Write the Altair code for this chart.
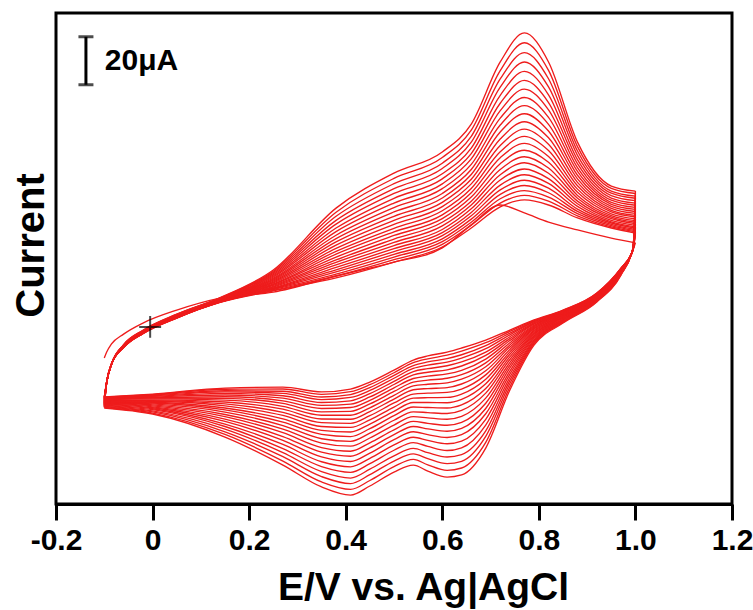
import altair as alt
import pandas as pd

# ---------------- data (potential in V, current in uA) ----------------
ANODIC_E = [-0.095, -0.085, -0.06, -0.02, 0.05, 0.14, 0.25, 0.38, 0.5, 0.6,
            0.66, 0.72, 0.77, 0.82, 0.88, 0.95, 1.0]
CATHODIC_E = [0.995, 0.97, 0.92, 0.85, 0.79, 0.74, 0.69, 0.64, 0.61, 0.57,
              0.54, 0.5, 0.45, 0.41, 0.35, 0.27, 0.15, 0.0, -0.1]

# first (initial) anodic scan, starting at -0.1 V
FIRST_SCAN_START = -24.2
FIRST_SCAN_I = [-21.7, -18.3, -14.2, -9.6, -4.2, 0.8, 3.3, 10.0, 15.8, 21.7,
                31.3, 39.6, 36.3, 32.5, 29.2, 25.8, 23.8]

# anodic currents of cycles 2..25, one row per potential in ANODIC_E
ANODIC_I = [
    [-34.2, -34.2, -34.2, -34.2, -34.2, -34.2, -34.2, -34.2, -34.2, -34.2, -34.2, -34.2,
     -34.2, -34.2, -34.2, -34.2, -34.2, -34.2, -34.2, -34.2, -34.2, -34.2, -34.2, -34.2],
    [-26.7, -26.7, -26.7, -26.7, -26.7, -26.7, -26.7, -26.7, -26.7, -26.7, -26.7, -26.7,
     -26.7, -26.7, -26.7, -26.7, -26.7, -26.7, -26.7, -26.7, -26.7, -26.7, -26.7, -26.7],
    [-19.8, -19.8, -19.7, -19.7, -19.7, -19.6, -19.6, -19.5, -19.5, -19.4, -19.4, -19.3,
     -19.3, -19.2, -19.2, -19.1, -19.1, -19.0, -18.9, -18.9, -18.8, -18.7, -18.7, -18.6],
    [-14.0, -14.0, -13.9, -13.9, -13.8, -13.8, -13.7, -13.7, -13.6, -13.6, -13.5, -13.5,
     -13.4, -13.3, -13.3, -13.2, -13.1, -13.1, -13.0, -12.9, -12.8, -12.8, -12.7, -12.6],
    [-7.5, -7.5, -7.4, -7.4, -7.3, -7.3, -7.2, -7.1, -7.1, -7.0, -7.0, -6.9,
     -6.8, -6.8, -6.7, -6.6, -6.5, -6.4, -6.4, -6.3, -6.2, -6.1, -6.0, -5.9],
    [-1.0, -0.9, -0.9, -0.8, -0.8, -0.7, -0.6, -0.6, -0.5, -0.4, -0.3, -0.2,
     -0.2, -0.1, 0.0, 0.1, 0.2, 0.3, 0.4, 0.5, 0.7, 0.8, 0.9, 1.0],
    [3.8, 4.0, 4.3, 4.6, 4.8, 5.1, 5.4, 5.7, 6.1, 6.4, 6.7, 7.1,
     7.5, 7.9, 8.3, 8.7, 9.1, 9.6, 10.0, 10.5, 11.0, 11.5, 12.0, 12.5],
    [9.2, 10.0, 10.8, 11.7, 12.6, 13.6, 14.6, 15.7, 16.7, 17.9, 19.1, 20.3,
     21.5, 22.9, 24.2, 25.6, 27.0, 28.5, 30.0, 31.6, 33.2, 34.9, 36.6, 38.3],
    [15.8, 16.8, 17.9, 19.0, 20.2, 21.4, 22.7, 24.0, 25.4, 26.9, 28.4, 29.9,
     31.5, 33.2, 34.9, 36.7, 38.5, 40.4, 42.4, 44.4, 46.4, 48.5, 50.7, 52.9],
    [22.1, 23.2, 24.3, 25.5, 26.8, 28.1, 29.4, 30.9, 32.4, 33.9, 35.5, 37.2,
     38.9, 40.7, 42.5, 44.4, 46.4, 48.4, 50.5, 52.6, 54.8, 57.0, 59.4, 61.7],
    [30.0, 31.2, 32.4, 33.7, 35.1, 36.5, 38.0, 39.6, 41.2, 42.9, 44.7, 46.5,
     48.4, 50.3, 52.3, 54.4, 56.5, 58.8, 61.0, 63.3, 65.8, 68.2, 70.8, 73.3],
    [38.8, 40.4, 42.2, 44.0, 45.9, 47.9, 50.0, 52.2, 54.4, 56.8, 59.3, 61.8,
     64.4, 67.1, 70.0, 72.9, 75.8, 78.9, 82.0, 85.3, 88.7, 92.1, 95.6, 99.2],
    [41.7, 43.6, 45.6, 47.7, 49.9, 52.2, 54.6, 57.2, 59.7, 62.4, 65.3, 68.2,
     71.2, 74.3, 77.6, 81.0, 84.4, 87.9, 91.5, 95.3, 99.2, 103.1, 107.2, 111.3],
    [39.6, 41.2, 42.9, 44.7, 46.6, 48.6, 50.6, 52.8, 55.0, 57.4, 59.8, 62.3,
     64.9, 67.6, 70.4, 73.2, 76.1, 79.2, 82.3, 85.5, 88.8, 92.2, 95.7, 99.2],
    [34.2, 35.1, 36.0, 36.9, 37.9, 39.0, 40.1, 41.2, 42.4, 43.6, 44.9, 46.2,
     47.6, 49.0, 50.5, 52.0, 53.6, 55.2, 56.8, 58.5, 60.3, 62.1, 63.9, 65.8],
    [30.0, 30.5, 31.0, 31.5, 32.1, 32.6, 33.2, 33.9, 34.5, 35.2, 35.9, 36.7,
     37.4, 38.2, 39.0, 39.9, 40.7, 41.6, 42.5, 43.5, 44.5, 45.4, 46.5, 47.5],
    [27.9, 28.4, 28.9, 29.4, 30.0, 30.5, 31.1, 31.8, 32.4, 33.1, 33.8, 34.6,
     35.3, 36.1, 36.9, 37.8, 38.6, 39.5, 40.4, 41.4, 42.4, 43.3, 44.4, 45.4],
]

# cathodic currents of cycles 1..25, one row per potential in CATHODIC_E
CATHODIC_I = [
    [20.8, 20.8, 20.8, 20.9, 20.9, 20.9, 21.0, 21.0, 21.0, 21.1, 21.1, 21.1, 21.2,
     21.2, 21.2, 21.3, 21.3, 21.4, 21.4, 21.5, 21.5, 21.6, 21.6, 21.7, 21.7],
    [13.3, 13.2, 13.2, 13.1, 13.0, 12.9, 12.8, 12.7, 12.6, 12.5, 12.4, 12.3, 12.1,
     12.0, 11.9, 11.7, 11.6, 11.5, 11.3, 11.2, 11.0, 10.9, 10.7, 10.6, 10.4],
    [2.9, 2.8, 2.7, 2.6, 2.5, 2.4, 2.3, 2.1, 2.0, 1.9, 1.7, 1.6, 1.4,
     1.2, 1.1, 0.9, 0.7, 0.6, 0.4, 0.2, 0.0, -0.2, -0.4, -0.6, -0.8],
    [-4.2, -4.3, -4.5, -4.6, -4.8, -5.0, -5.2, -5.3, -5.5, -5.7, -5.9, -6.2, -6.4,
     -6.6, -6.9, -7.1, -7.4, -7.6, -7.9, -8.2, -8.4, -8.7, -9.0, -9.3, -9.6],
    [-8.3, -8.6, -8.9, -9.1, -9.5, -9.8, -10.1, -10.5, -10.9, -11.3, -11.7, -12.1, -12.6,
     -13.0, -13.5, -14.0, -14.4, -15.0, -15.5, -16.0, -16.6, -17.1, -17.7, -18.2, -18.8],
    [-12.5, -13.1, -13.8, -14.5, -15.3, -16.1, -16.9, -17.8, -18.7, -19.6, -20.6, -21.6, -22.6,
     -23.7, -24.8, -26.0, -27.1, -28.3, -29.6, -30.9, -32.2, -33.5, -34.8, -36.2, -37.5],
    [-16.7, -17.8, -19.0, -20.3, -21.7, -23.1, -24.6, -26.2, -27.8, -29.5, -31.2, -33.0, -34.9,
     -36.9, -38.8, -40.9, -43.0, -45.2, -47.4, -49.7, -52.1, -54.5, -56.8, -59.3, -61.7],
    [-20.0, -21.3, -22.8, -24.2, -25.8, -27.5, -29.3, -31.1, -33.0, -35.0, -37.1, -39.2, -41.4,
     -43.7, -46.0, -48.5, -51.0, -53.5, -56.1, -58.8, -61.6, -64.4, -67.2, -70.0, -72.9],
    [-21.7, -23.0, -24.4, -25.9, -27.4, -29.1, -30.8, -32.6, -34.5, -36.5, -38.5, -40.6, -42.8,
     -45.0, -47.3, -49.7, -52.2, -54.7, -57.3, -59.9, -62.7, -65.4, -68.2, -71.0, -73.8],
    [-23.3, -24.5, -25.8, -27.1, -28.6, -30.1, -31.7, -33.4, -35.1, -36.9, -38.8, -40.7, -42.7,
     -44.8, -46.9, -49.1, -51.4, -53.7, -56.1, -58.5, -61.0, -63.6, -66.1, -68.7, -71.3],
    [-25.0, -26.1, -27.3, -28.5, -29.8, -31.2, -32.7, -34.2, -35.8, -37.4, -39.2, -40.9, -42.7,
     -44.6, -46.6, -48.6, -50.6, -52.7, -54.9, -57.2, -59.4, -61.8, -64.1, -66.4, -68.8],
    [-29.2, -30.3, -31.4, -32.6, -33.9, -35.2, -36.6, -38.1, -39.7, -41.3, -42.9, -44.6, -46.4,
     -48.2, -50.1, -52.1, -54.1, -56.1, -58.2, -60.4, -62.6, -64.9, -67.1, -69.4, -71.7],
    [-34.2, -35.3, -36.5, -37.7, -39.0, -40.4, -41.8, -43.3, -44.9, -46.5, -48.2, -49.9, -51.7,
     -53.6, -55.5, -57.5, -59.5, -61.6, -63.8, -66.0, -68.2, -70.5, -72.8, -75.2, -77.5],
    [-37.1, -38.2, -39.4, -40.6, -42.0, -43.4, -44.8, -46.4, -48.0, -49.7, -51.4, -53.1, -55.0,
     -56.9, -58.9, -60.9, -63.0, -65.1, -67.3, -69.5, -71.8, -74.2, -76.5, -78.9, -81.3],
    [-38.3, -39.3, -40.4, -41.5, -42.7, -43.9, -45.2, -46.6, -48.0, -49.6, -51.1, -52.7, -54.3,
     -56.0, -57.8, -59.6, -61.5, -63.4, -65.4, -67.4, -69.4, -71.5, -73.6, -75.8, -77.9],
    [-36.3, -37.1, -38.0, -38.9, -39.9, -40.9, -42.0, -43.1, -44.3, -45.5, -46.8, -48.1, -49.5,
     -50.9, -52.3, -53.8, -55.3, -56.9, -58.5, -60.2, -61.9, -63.6, -65.3, -67.1, -68.8],
    [-36.7, -37.2, -37.8, -38.3, -38.9, -39.6, -40.3, -41.0, -41.7, -42.5, -43.3, -44.1, -45.0,
     -45.8, -46.7, -47.7, -48.6, -49.6, -50.6, -51.7, -52.7, -53.8, -54.9, -56.0, -57.1],
    [-39.2, -39.4, -39.6, -39.9, -40.1, -40.4, -40.7, -40.9, -41.2, -41.6, -41.9, -42.2, -42.6,
     -42.9, -43.3, -43.7, -44.1, -44.5, -44.9, -45.3, -45.7, -46.2, -46.6, -47.1, -47.5],
    [-40.4, -40.5, -40.6, -40.8, -40.9, -41.1, -41.2, -41.4, -41.5, -41.7, -41.9, -42.1, -42.3,
     -42.5, -42.7, -42.9, -43.1, -43.3, -43.5, -43.8, -44.0, -44.3, -44.5, -44.8, -45.0],
]

START_MARK_E = [-0.005]
START_MARK_I = [-11.2]

SCALEBAR_E = [-0.138]
SCALEBAR_I = [89.7, 109.7]
SCALEBAR_LABEL = "20\u03bcA"

X_TICKS = [-0.2, 0.0, 0.2, 0.4, 0.6, 0.8, 1.0, 1.2]

# ---------------- build table (each cycle: anodic + cathodic branch) ----------------
rows = []
n_cycles = len(CATHODIC_I[0])
for k in range(n_cycles):
    if k == 0:
        anodic = [(-0.1, FIRST_SCAN_START)] + list(zip(ANODIC_E, FIRST_SCAN_I))
    else:
        anodic = [(-0.1, CATHODIC_I[-1][k - 1])] + [
            (e, ANODIC_I[i][k - 1]) for i, e in enumerate(ANODIC_E)]
    cathodic = [anodic[-1]] + [(e, CATHODIC_I[i][k]) for i, e in enumerate(CATHODIC_E)]
    for branch, pts in (("a", anodic), ("c", cathodic)):
        for e, c in pts:
            rows.append({"seg": f"{k + 1}{branch}", "E": e, "I": c})
df = pd.DataFrame(rows)

NARROW = "Liberation Sans Narrow, Arial Narrow, Liberation Sans, Arial, sans-serif"
REG = "Liberation Sans, Arial, sans-serif"

xscale = alt.Scale(domain=[-0.2, 1.2], nice=False, zero=False)
yscale = alt.Scale(domain=[-85, 119.6], nice=False, zero=False)

lines = alt.Chart(df).mark_line(
    interpolate="monotone", color="#ee1c1c", strokeWidth=1.35, clip=True
).encode(
    x=alt.X("E:Q", scale=xscale, axis=alt.Axis(
        values=X_TICKS, grid=False,
        labelExpr="datum.value < 0 ? '-' + format(-datum.value, '.1f') : (datum.value == 0 ? '0' : format(datum.value, '.1f'))",
        labelFont=NARROW, labelFontSize=30, labelFontWeight="bold", labelColor="black",
        labelFlush=False, labelOverlap=False, labelPadding=5,
        tickSize=16, tickWidth=3, tickColor="black",
        domainWidth=3, domainColor="black",
        title="E/V vs. Ag|AgCl", titleFont=NARROW, titleFontSize=39, titleFontWeight="bold",
        titleColor="black", titleX=367, titleY=83, titleAlign="center", titleBaseline="middle",
    )),
    y=alt.Y("I:Q", scale=yscale, axis=alt.Axis(
        labels=False, ticks=False, domain=False, grid=False,
        title="Current", titleFont=REG, titleFontSize=40, titleFontWeight="bold",
        titleColor="black", titleX=-25, titleY=232, titleAngle=270,
        titleAlign="center", titleBaseline="middle",
    )),
    detail="seg:N",
)

mark_df = pd.DataFrame({"E": START_MARK_E, "I": START_MARK_I})
start_mark = alt.Chart(mark_df).mark_point(
    shape="M-1,0L1,0M0,-1L0,1", size=480, filled=False, stroke="black", strokeWidth=2
).encode(x=alt.X("E:Q", scale=xscale), y=alt.Y("I:Q", scale=yscale))

bar_df = pd.DataFrame({"E": SCALEBAR_E, "I": [SCALEBAR_I[0]], "I2": [SCALEBAR_I[1]]})
bar_v = alt.Chart(bar_df).mark_rule(color="black", strokeWidth=3).encode(
    x=alt.X("E:Q", scale=xscale), y=alt.Y("I:Q", scale=yscale), y2="I2:Q"
)
serif_df = pd.DataFrame({"E": [SCALEBAR_E[0]] * 2, "I": SCALEBAR_I})
bar_h = alt.Chart(serif_df).mark_tick(
    color="black", thickness=3, size=15, orient="horizontal"
).encode(x=alt.X("E:Q", scale=xscale), y=alt.Y("I:Q", scale=yscale))

label_df = pd.DataFrame({"E": [-0.099], "I": [(SCALEBAR_I[0] + SCALEBAR_I[1]) / 2], "t": [SCALEBAR_LABEL]})
bar_label = alt.Chart(label_df).mark_text(
    align="left", baseline="middle", font=REG, fontSize=30, fontWeight="bold", color="black"
).encode(x=alt.X("E:Q", scale=xscale), y=alt.Y("I:Q", scale=yscale), text="t:N")

chart = alt.layer(lines, start_mark, bar_v, bar_h, bar_label).properties(
    width=676, height=491,
    autosize=alt.AutoSizeParams(type="none"),
    padding={"left": 56, "top": 13, "right": 21, "bottom": 106},
    background="white",
).configure_view(stroke="black", strokeWidth=3)

chart.save("out.html", embed_options={"renderer": "svg", "actions": False})
